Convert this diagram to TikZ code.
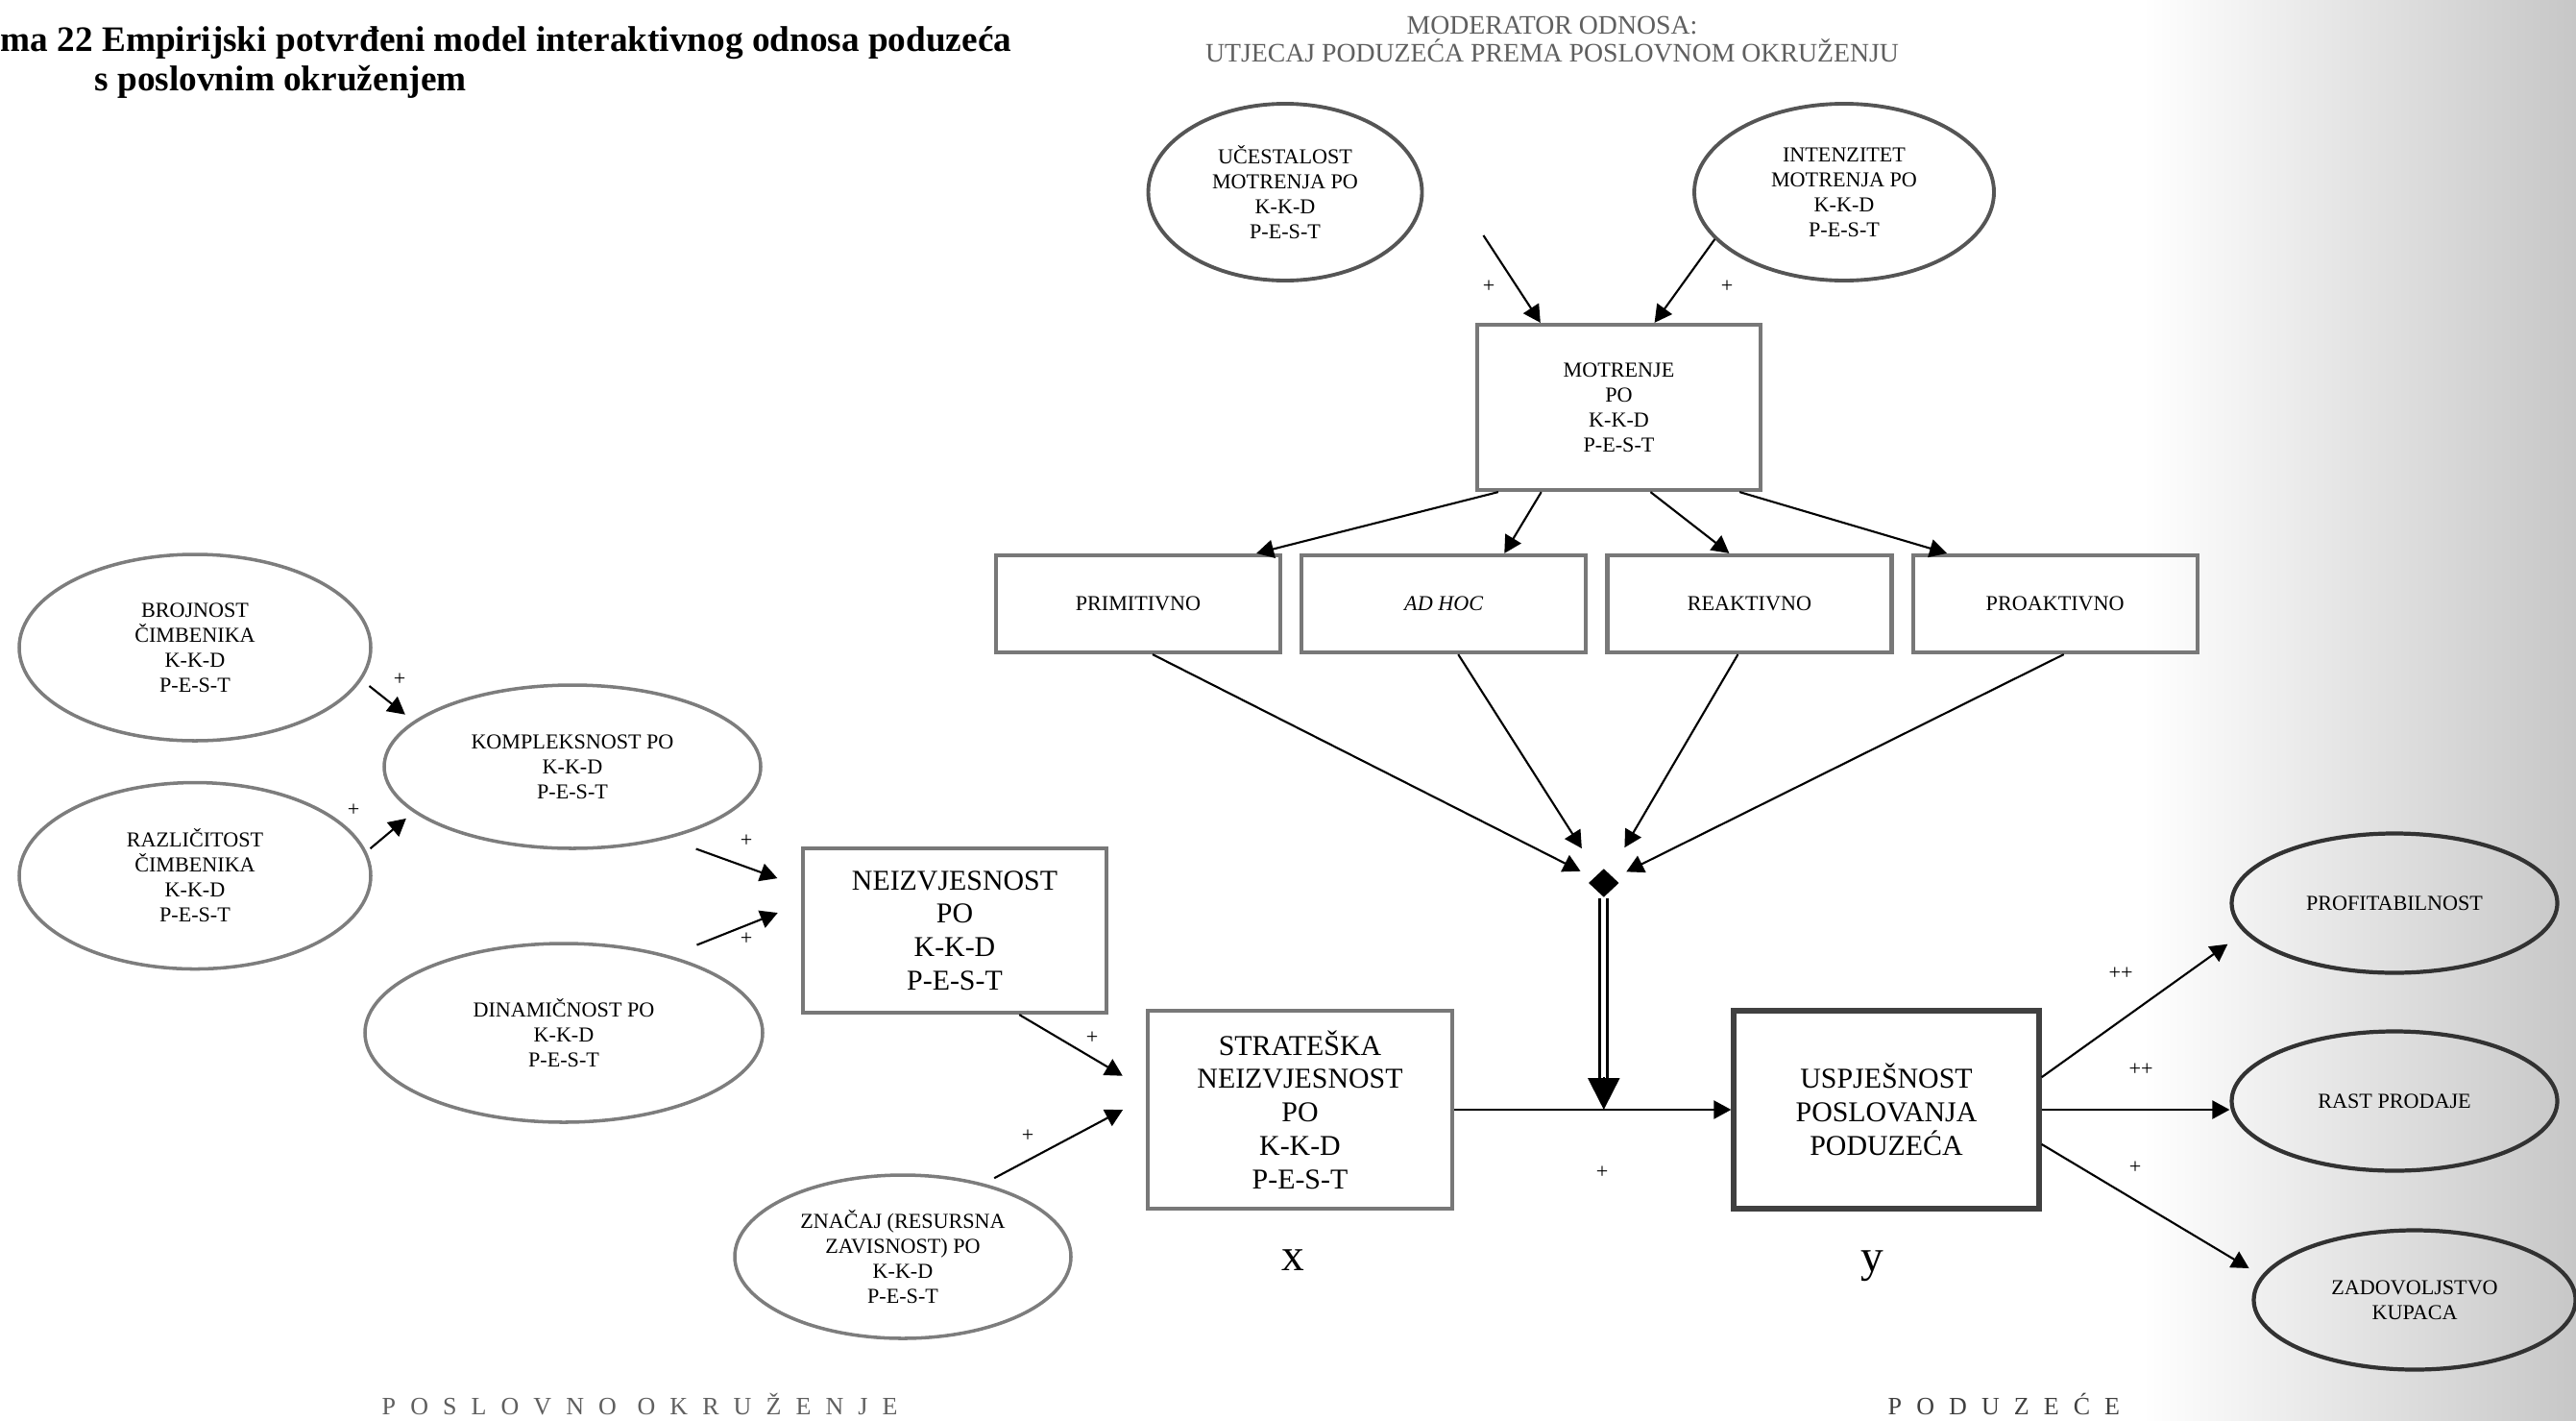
\documentclass[tikz,border=0pt]{standalone}
\usepackage{fontspec}
\setmainfont{Liberation Serif}
\newfontfamily\spacedfont[LetterSpace=58]{Liberation Serif}
\usepackage{tikz}
\usetikzlibrary{arrows.meta,positioning,shapes.geometric,calc}
\definecolor{ellgray}{RGB}{125,125,125}
\definecolor{topgray}{RGB}{85,85,85}
\definecolor{rightgray}{RGB}{50,50,50}
\definecolor{boxgray}{RGB}{120,120,120}
\definecolor{headgray}{RGB}{95,95,95}
\newcommand\ksmall{\fontsize{6.3}{7.4}\selectfont}
\newcommand\kbig{\fontsize{8.5}{9.9}\selectfont}
\newcommand\kxy{\fontsize{13.5}{15}\selectfont}
\newcommand\ktitle{\fontsize{10.6}{12}\selectfont\bfseries}
\newcommand\khead{\fontsize{7.9}{9}\selectfont}
\newcommand\kfoot{\spacedfont\fontsize{7.4}{9}\selectfont}
\tikzset{
  ell/.style={ellipse, draw=#1, line width=1pt, inner sep=0pt, align=center, font=\ksmall},
  ell/.default=ellgray,
  kbox/.style={rectangle, draw=#1, line width=1.2pt, inner sep=0pt, align=center},
  kbox/.default=boxgray,
  arr/.style={-{Triangle[length=0.18cm,width=0.19cm]}, line width=0.6pt},
  sgn/.style={font=\ksmall, inner sep=0pt},
}

\begin{document}
\begin{tikzpicture}
  \useasboundingbox (0,0) rectangle (26.82,-14.78);
  \shade[left color=white, right color=black!22] (22.3,0) rectangle (26.82,-14.78);

  % headings
  \node[anchor=base west, inner sep=0pt, font=\ktitle] (title1) at (0,-0.53)
        {ma 22 Empirijski potvrđeni model interaktivnog odnosa poduzeća};
  \node[anchor=base west, inner sep=0pt, font=\ktitle] (title2) at (0.98,-0.94)
        {s poslovnim okruženjem};
  \node[anchor=base, inner sep=0pt, font=\khead, text=headgray] (mod1) at (16.16,-0.35)
        {MODERATOR ODNOSA:};
  \node[anchor=base, inner sep=0pt, font=\khead, text=headgray] (mod2) at (16.16,-0.65)
        {UTJECAJ PODUZEĆA PREMA POSLOVNOM OKRUŽENJU};

  % moderator
  \node[ell=topgray, line width=1.1pt, minimum width=2.85cm, minimum height=1.84cm] (ucest) at (13.38,-2.00)
        {UČESTALOST\\MOTRENJA PO\\K-K-D\\P-E-S-T};
  \node[ell=topgray, line width=1.1pt, minimum width=3.12cm, minimum height=1.84cm] (inten) at (19.20,-2.00)
        {INTENZITET\\MOTRENJA PO\\K-K-D\\P-E-S-T};
  \node[kbox, minimum width=2.95cm, minimum height=1.72cm, font=\ksmall] (motr) at (16.855,-4.24)
        {MOTRENJE\\PO\\K-K-D\\P-E-S-T};
  \node[kbox, minimum width=2.96cm, minimum height=1.01cm, font=\ksmall] (prim) at (11.85,-6.285) {PRIMITIVNO};
  \node[kbox, minimum width=2.96cm, minimum height=1.01cm, font=\ksmall, right=0.18cm of prim] (adhoc) {\textit{AD HOC}};
  \node[kbox, minimum width=2.96cm, minimum height=1.01cm, font=\ksmall, right=0.18cm of adhoc] (reak) {REAKTIVNO};
  \node[kbox, minimum width=2.96cm, minimum height=1.01cm, font=\ksmall, right=0.18cm of reak] (proak) {PROAKTIVNO};

  % business environment
  \node[ell, minimum width=3.66cm, minimum height=1.94cm] (broj) at (2.03,-6.74)
        {BROJNOST\\ČIMBENIKA\\K-K-D\\P-E-S-T};
  \node[ell, minimum width=3.66cm, minimum height=1.94cm, below=0.40cm of broj] (razl)
        {RAZLIČITOST\\ČIMBENIKA\\K-K-D\\P-E-S-T};
  \node[ell, minimum width=3.92cm, minimum height=1.70cm] (kompl) at (5.96,-7.98)
        {KOMPLEKSNOST PO\\K-K-D\\P-E-S-T};
  \node[ell, minimum width=4.14cm, minimum height=1.86cm] (dinam) at (5.87,-10.75)
        {DINAMIČNOST PO\\K-K-D\\P-E-S-T};
  \node[ell, minimum width=3.50cm, minimum height=1.70cm] (znac) at (9.40,-13.08)
        {ZNAČAJ (RESURSNA\\ZAVISNOST) PO\\K-K-D\\P-E-S-T};
  \node[kbox, minimum width=3.16cm, minimum height=1.71cm, font=\kbig] (neiz) at (9.94,-9.685)
        {NEIZVJESNOST\\PO\\K-K-D\\P-E-S-T};
  \node[kbox, minimum width=3.17cm, minimum height=2.06cm, font=\kbig] (strat) at (13.535,-11.55)
        {STRATEŠKA\\NEIZVJESNOST\\PO\\K-K-D\\P-E-S-T};

  % company
  \node[kbox=black!75, line width=1.5pt, minimum width=3.18cm, minimum height=2.06cm, font=\kbig] (usp) at (19.64,-11.55)
        {USPJEŠNOST\\POSLOVANJA\\PODUZEĆA};
  \node[ell=rightgray, line width=1.2pt, minimum width=3.39cm, minimum height=1.45cm] (prof) at (24.93,-9.40) {PROFITABILNOST};
  \node[ell=rightgray, line width=1.2pt, minimum width=3.39cm, minimum height=1.45cm] (rast) at (24.93,-11.46) {RAST PRODAJE};
  \node[ell=rightgray, line width=1.2pt, minimum width=3.35cm, minimum height=1.45cm] (zad) at (25.14,-13.53)
        {ZADOVOLJSTVO\\KUPACA};

  \coordinate (join) at ($(strat.east)!0.54!(usp.west)$);
  \node[diamond, fill=black, aspect=1, minimum width=0.32cm, minimum height=0.30cm, inner sep=0pt] (dia)
        at ($(join)+(0,2.36)$) {};

  \node[font=\kxy, anchor=base, inner sep=0pt] (xlbl) at ($(strat.south)+(-0.07,-0.62)$) {x};
  \node[font=\kxy, anchor=base, inner sep=0pt] (ylbl) at ($(usp.south)+(-0.15,-0.63)$) {y};
  \node[font=\kfoot, text=headgray, anchor=base west, inner sep=0pt] (env) at (3.97,-14.72) {POSLOVNO OKRUŽENJE};
  \node[font=\kfoot, text=black!75, anchor=base west, inner sep=0pt] (firm) at (19.65,-14.72) {PODUZEĆE};

  % connectors, left part
  \draw[arr, shorten <=0.1cm, shorten >=0.11cm] (broj.-11) -- (kompl.164);
  \draw[arr, shorten <=0.05cm, shorten >=0.1cm] (razl.8) -- (kompl.-164);
  \draw[arr, shorten <=0.31cm, shorten >=0.26cm] (kompl.-37) -- ($(neiz.north west)!0.24!(neiz.south west)$);
  \draw[arr, shorten <=0.30cm, shorten >=0.26cm] (dinam.36) -- ($(neiz.north west)!0.34!(neiz.south west)$);
  \draw[arr, shorten >=0.28cm] ($(neiz.south west)!0.71!(neiz.south east)$) -- ($(strat.north west)!0.40!(strat.south west)$);
  \draw[arr, shorten <=0.12cm, shorten >=0.27cm] (znac.42) -- ($(strat.north west)!0.44!(strat.south west)$);

  % connectors, moderator
  \draw[arr] ($(ucest.east)+(0.62,-0.45)$) -- ($(motr.north west)!0.227!(motr.north east)$);
  \draw[arr] (inten.-160) -- ($(motr.north west)!0.624!(motr.north east)$);
  \draw[arr] ($(motr.south west)!0.08!(motr.south east)$) -- ($(prim.north west)!0.91!(prim.north east)$);
  \draw[arr] ($(motr.south west)!0.23!(motr.south east)$) -- ($(adhoc.north west)!0.71!(adhoc.north east)$);
  \draw[arr] ($(motr.south west)!0.61!(motr.south east)$) -- ($(reak.north west)!0.43!(reak.north east)$);
  \draw[arr] ($(motr.south west)!0.92!(motr.south east)$) -- ($(proak.north west)!0.125!(proak.north east)$);
  \draw[arr, shorten >=0.15cm] ($(prim.south west)!0.55!(prim.south east)$) -- (dia);
  \draw[arr, shorten >=0.31cm] ($(adhoc.south west)!0.55!(adhoc.south east)$) -- (dia);
  \draw[arr, shorten >=0.31cm] ($(reak.south west)!0.46!(reak.south east)$) -- (dia);
  \draw[arr, shorten >=0.14cm] ($(proak.south west)!0.53!(proak.south east)$) -- (dia);
  \draw[line width=0.85pt, double, double distance=0.05cm, shorten >=0.3cm] (dia.south) -- (join);
  \draw[-{Triangle[length=0.33cm,width=0.33cm]}, line width=0.6pt] ($(join)+(0,0.34)$) -- (join);

  % connectors, company
  \draw[arr] (strat) -- (usp);
  \draw[arr, shorten >=0.21cm] ($(usp.north east)!0.34!(usp.south east)$) -- (prof.-169);
  \draw[arr] (usp.east) -- (usp.east -| rast.west);
  \draw[arr, shorten >=0.15cm] ($(usp.north east)!0.67!(usp.south east)$) -- (zad.171);

  % signs
  \node[sgn] (s1) at (4.16,-7.07) {+};
  \node[sgn] (s2) at (3.68,-8.43) {+};
  \node[sgn] (s3) at (7.77,-8.75) {+};
  \node[sgn] (s4) at (7.77,-9.77) {+};
  \node[sgn] (s5) at (11.37,-10.80) {+};
  \node[sgn] (s6) at (10.70,-11.82) {+};
  \node[sgn] (s7) at (15.50,-2.98) {+};
  \node[sgn] (s8) at (17.98,-2.98) {+};
  \node[sgn] (s9) at (16.68,-12.20) {+};
  \node[sgn] (s10) at (22.08,-10.13) {++};
  \node[sgn] (s11) at (22.29,-11.13) {++};
  \node[sgn] (s12) at (22.23,-12.15) {+};
\end{tikzpicture}
\end{document}
